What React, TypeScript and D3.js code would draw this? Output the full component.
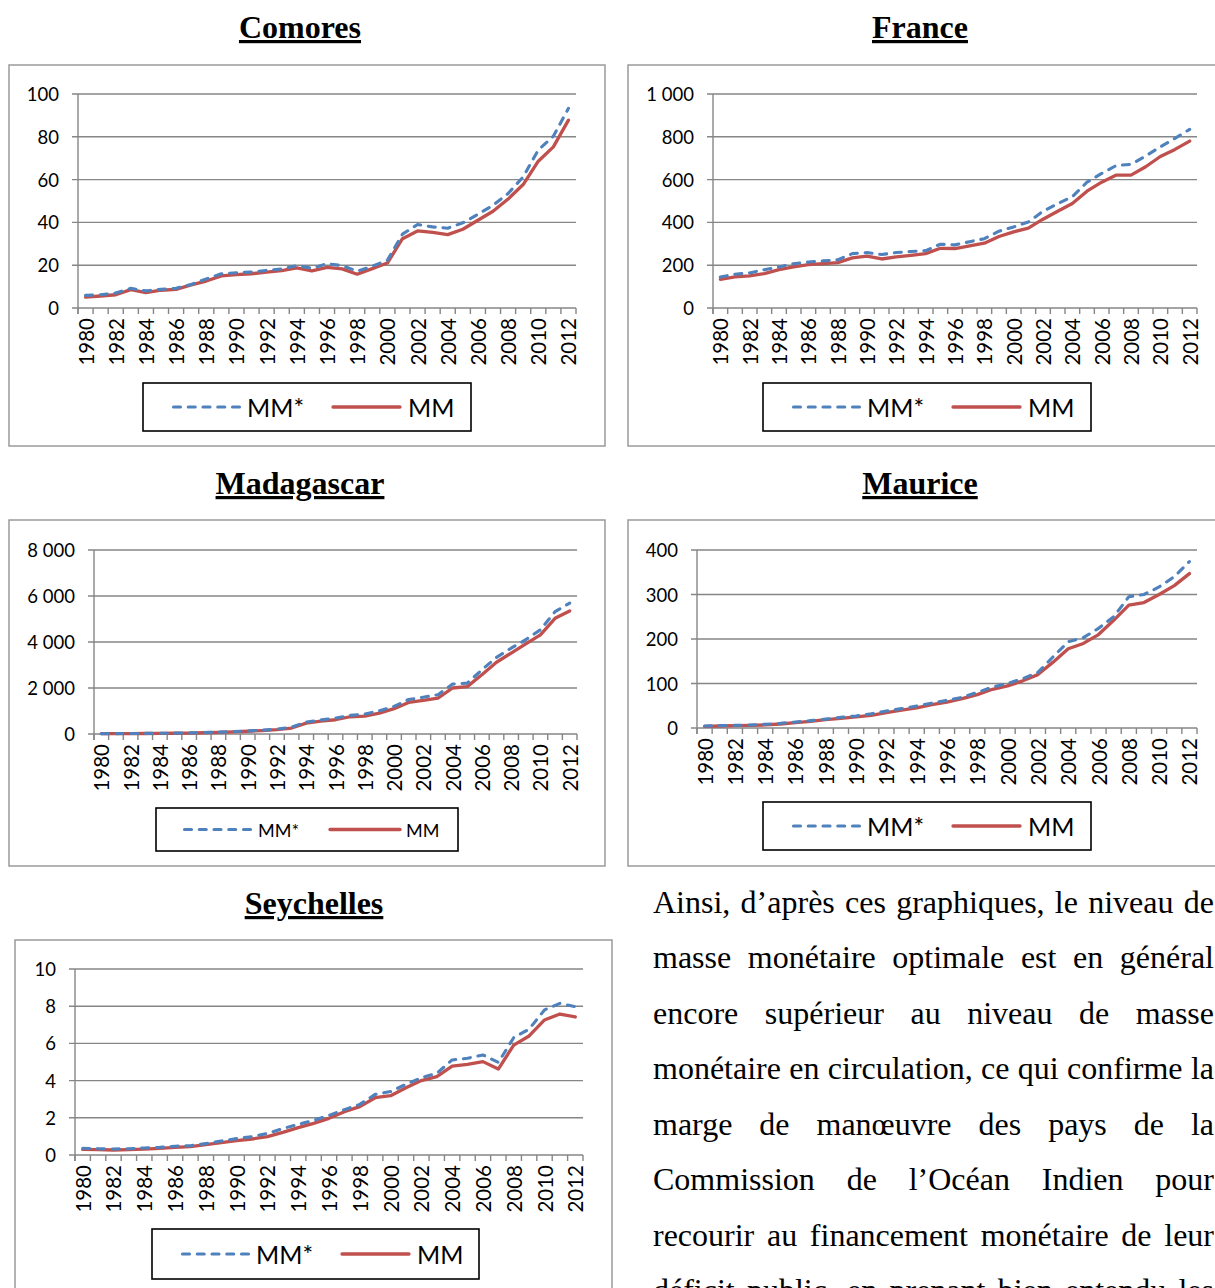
import React from "react";
import * as d3 from "d3";

const years = [1980,1981,1982,1983,1984,1985,1986,1987,1988,1989,1990,1991,1992,1993,1994,1995,1996,1997,1998,1999,2000,2001,2002,2003,2004,2005,2006,2007,2008,2009,2010,2011,2012];

const comoresMMStar = [5.9,6.2,7.0,9.2,8.0,8.7,9.2,11.0,13.6,16.0,16.5,16.8,17.6,18.2,19.8,18.6,20.7,19.8,17.2,19.5,22.3,34.5,39.0,37.9,37.3,39.8,43.8,48.0,53.5,61.3,73.8,80.3,93.3];
const comoresMM = [5.1,5.6,6.2,8.6,7.2,8.3,8.7,10.8,12.6,15.0,15.6,16.0,16.8,17.5,18.7,17.3,19.0,18.3,15.8,18.4,21.0,32.4,36.0,35.3,34.3,36.8,41.0,45.2,50.9,57.7,68.6,75.3,87.8];

const franceMMStar = [145,158,164,179,192,207,215,220,225,254,259,250,259,264,268,298,295,310,324,359,379,402,452,488,520,588,629,666,671,710,753,793,835];
const franceMM = [134,145,150,161,179,192,203,207,212,234,242,229,239,246,254,279,278,290,303,334,356,373,415,452,488,546,588,621,621,660,708,741,780];

const madagascarMMStar = [14,17,21,26,31,38,48,62,80,105,135,165,210,300,520,610,690,810,870,1010,1200,1500,1600,1710,2170,2210,2790,3330,3730,4100,4530,5320,5690];
const madagascarMM = [12,15,18,22,27,33,42,55,72,95,120,150,190,260,470,560,620,750,780,910,1100,1370,1460,1560,2000,2060,2580,3120,3520,3920,4310,5030,5350];

const mauriceMMStar = [4.5,5.3,6.0,6.8,8.3,10.5,13.5,16.5,20,24,27,32,38,43.5,49.5,56,62,69,80,92,100,111,125,160,194,203,224,250,295,300,317,340,374];
const mauriceMM = [3.8,4.5,5.3,6.0,6.8,9.0,12,15,18.8,21.8,24.8,28.5,34.5,40,45,52.5,58,66,75,87,94.6,106,120,148,178,190,210,242,276,282,300,320,347];

const seychellesMMStar = [0.36,0.34,0.32,0.34,0.38,0.41,0.47,0.50,0.61,0.75,0.88,0.99,1.16,1.42,1.65,1.86,2.13,2.44,2.72,3.26,3.41,3.80,4.16,4.39,5.11,5.20,5.38,4.98,6.31,6.77,7.80,8.15,7.97];
const seychellesMM = [0.30,0.29,0.27,0.29,0.32,0.36,0.41,0.45,0.56,0.66,0.77,0.86,0.99,1.22,1.47,1.70,1.97,2.33,2.60,3.08,3.19,3.62,4.00,4.21,4.78,4.87,5.02,4.62,5.91,6.40,7.26,7.58,7.42];

const seriesNames = ["MM*", "MM"];

const paragraphLines = [
  "Ainsi, d\u2019apr\u00e8s ces graphiques, le niveau de",
  "masse mon\u00e9taire optimale est en g\u00e9n\u00e9ral",
  "encore sup\u00e9rieur au niveau de masse",
  "mon\u00e9taire en circulation, ce qui confirme la",
  "marge de man\u0153uvre des pays de la",
  "Commission de l\u2019Oc\u00e9an Indien pour",
  "recourir au financement mon\u00e9taire de leur",
  "d\u00e9ficit public, en prenant bien entendu les",
];

const BLUE = "#4F81BD";
const RED = "#C0504D";
const GRID = "#868686";
const SANS = "Lato, 'Noto Sans', sans-serif";
const SERIF = "'Liberation Serif', 'Times New Roman', serif";

const locale = d3.formatLocale({ decimal: ",", thousands: " ", grouping: [3], currency: ["", ""] });
const fmt = locale.format(",");

type Cfg = {
  title: string; titleX: number; titleY: number;
  box: { x: number; y: number; w: number; h: number };
  plot: { l: number; r: number; t: number; b: number };
  yMax: number; yStep: number;
  legend: { x: number; y: number; w: number; h: number; fs: number; o: number[] };
  star: number[]; mm: number[];
};

const charts: Cfg[] = [
  { title: "Comores", titleX: 300, titleY: 38, box: { x: 9, y: 65, w: 596, h: 381 },
    plot: { l: 78, r: 576, t: 94, b: 308 }, yMax: 100, yStep: 20,
    legend: { x: 143, y: 383, w: 328, h: 48, fs: 25, o: [29, 97, 104, 190, 257, 265] },
    star: comoresMMStar, mm: comoresMM },
  { title: "France", titleX: 920, titleY: 38, box: { x: 628, y: 65, w: 600, h: 381 },
    plot: { l: 713, r: 1197, t: 94, b: 308 }, yMax: 1000, yStep: 200,
    legend: { x: 763, y: 383, w: 328, h: 48, fs: 25, o: [29, 97, 104, 190, 257, 265] },
    star: franceMMStar, mm: franceMM },
  { title: "Madagascar", titleX: 300, titleY: 494, box: { x: 9, y: 520, w: 596, h: 346 },
    plot: { l: 94, r: 577, t: 550, b: 734 }, yMax: 8000, yStep: 2000,
    legend: { x: 156, y: 808, w: 302, h: 43, fs: 18, o: [27, 96, 102, 174, 244, 250] },
    star: madagascarMMStar, mm: madagascarMM },
  { title: "Maurice", titleX: 920, titleY: 494, box: { x: 628, y: 520, w: 600, h: 346 },
    plot: { l: 697, r: 1197, t: 550, b: 728 }, yMax: 400, yStep: 100,
    legend: { x: 763, y: 802, w: 328, h: 48, fs: 25, o: [29, 97, 104, 190, 257, 265] },
    star: mauriceMMStar, mm: mauriceMM },
  { title: "Seychelles", titleX: 314, titleY: 914, box: { x: 15, y: 940, w: 597, h: 400 },
    plot: { l: 75, r: 583, t: 969, b: 1155 }, yMax: 10, yStep: 2,
    legend: { x: 152, y: 1229, w: 327, h: 50, fs: 25, o: [29, 97, 104, 190, 257, 265] },
    star: seychellesMMStar, mm: seychellesMM },
];

function Chart({ c }: { c: Cfg }) {
  const { plot, legend } = c;
  const x = d3.scaleBand<number>().domain(years).range([plot.l, plot.r]).padding(0);
  const y = d3.scaleLinear().domain([0, c.yMax]).range([plot.b, plot.t]);
  const yTicks = d3.range(0, c.yMax + c.yStep / 2, c.yStep);
  const bw = x.bandwidth();
  const cx = (i: number) => (x(years[i]) as number) + bw / 2;
  const line = d3.line<number>().x((_, i) => cx(i)).y((d) => y(d));
  const boundaries = d3.range(years.length + 1).map((i) => plot.l + i * bw);
  const ly = legend.y + legend.h / 2;
  const o = legend.o;
  const yl = plot.b + 10;
  return (
    <g>
      <text x={c.titleX} y={c.titleY} textAnchor="middle" fontFamily={SERIF} fontWeight="bold" fontSize={32} textDecoration="underline">{c.title}</text>
      <rect x={c.box.x} y={c.box.y} width={c.box.w} height={c.box.h} fill="#fff" stroke="#9a9a9a" strokeWidth={1.5} />
      {yTicks.map((t) => (
        <g key={t}>
          <line x1={plot.l - 6} x2={plot.r} y1={y(t)} y2={y(t)} stroke={GRID} strokeWidth={1.4} />
          <text x={plot.l - 19} y={y(t)} textAnchor="end" dominantBaseline="central" fontFamily={SANS} fontSize={18.5} fill="#000">{fmt(t)}</text>
        </g>
      ))}
      <line x1={plot.l} x2={plot.l} y1={plot.t} y2={plot.b + 6} stroke={GRID} strokeWidth={1.4} />
      {boundaries.map((bx, i) => (
        <line key={i} x1={bx} x2={bx} y1={plot.b} y2={plot.b + 6} stroke={GRID} strokeWidth={1.4} />
      ))}
      {years.map((yr, i) => i % 2 === 0 ? (
        <text key={yr} x={cx(i)} y={yl} transform={`rotate(-90, ${cx(i)}, ${yl})`} textAnchor="end" dominantBaseline="central" fontFamily={SANS} fontSize={20.5} fill="#000">{yr}</text>
      ) : null)}
      <path d={line(c.mm) || ""} fill="none" stroke={RED} strokeWidth={3.3} strokeLinejoin="round" strokeLinecap="round" />
      <path d={line(c.star) || ""} fill="none" stroke={BLUE} strokeWidth={3.1} strokeDasharray="7 7.75" strokeLinecap="round" strokeLinejoin="round" />
      <rect x={legend.x} y={legend.y} width={legend.w} height={legend.h} fill="#fff" stroke="#000" strokeWidth={1.6} />
      <line x1={legend.x + o[0] + 1.5} x2={legend.x + o[1]} y1={ly} y2={ly} stroke={BLUE} strokeWidth={3.1} strokeDasharray="7 7.75" strokeLinecap="round" />
      <text x={legend.x + o[2]} y={ly} dominantBaseline="central" fontFamily={SANS} fontSize={legend.fs} fill="#000">{seriesNames[0]}</text>
      <line x1={legend.x + o[3]} x2={legend.x + o[4]} y1={ly} y2={ly} stroke={RED} strokeWidth={3.3} strokeLinecap="round" />
      <text x={legend.x + o[5]} y={ly} dominantBaseline="central" fontFamily={SANS} fontSize={legend.fs} fill="#000">{seriesNames[1]}</text>
    </g>
  );
}

export default function App() {
  const lineH = 55.5;
  const firstBaseline = 913;
  return (
    <div style={{ position: "absolute", left: 0, top: 0, width: 1215, height: 1288, overflow: "hidden", background: "#fff" }}>
      <svg width={1215} height={1288} viewBox="0 0 1215 1288" style={{ display: "block" }}>
        <rect x={0} y={0} width={1215} height={1288} fill="#fff" />
        {charts.map((c) => <Chart key={c.title} c={c} />)}
        <foreignObject x={653} y={firstBaseline - 38.5} width={561} height={lineH * paragraphLines.length}>
          <div style={{ fontFamily: SERIF, fontSize: 32, lineHeight: `${lineH}px`, color: "#000", margin: 0 }}>
            {paragraphLines.map((l, i) => (
              <div key={i} style={{ textAlign: "justify", textAlignLast: "justify", whiteSpace: "nowrap", height: lineH }}>{l}</div>
            ))}
          </div>
        </foreignObject>
      </svg>
    </div>
  );
}
